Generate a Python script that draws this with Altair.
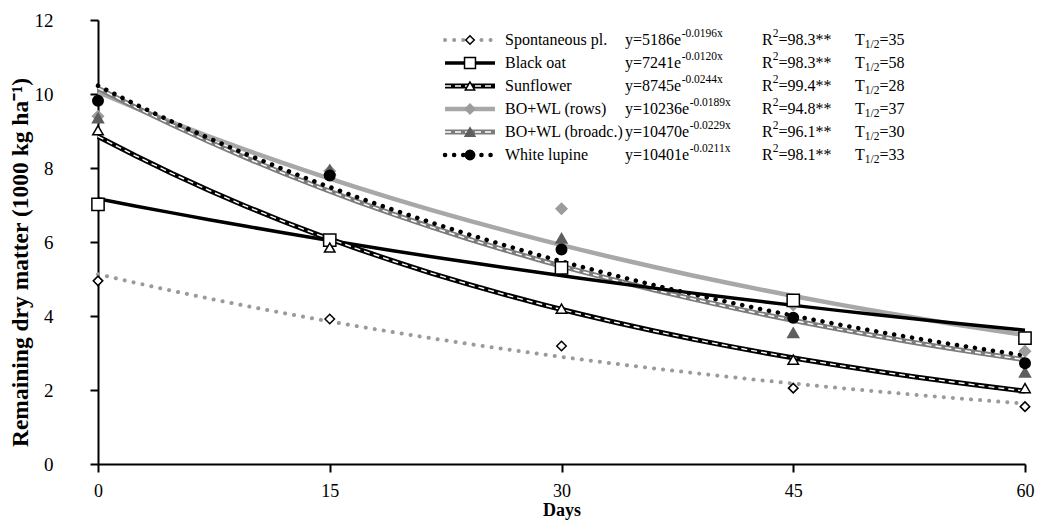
import altair as alt
import pandas as pd

# ---------------- data ----------------
days = [0, 15, 30, 45, 60]
series_names = ["Spontaneous pl.", "Black oat", "Sunflower",
                "BO+WL (rows)", "BO+WL (broadc.)", "White lupine"]
spontaneous = [4.95, 3.92, 3.19, 2.05, 1.55]
black_oat = [7.02, 6.05, 5.30, 4.42, 3.40]
sunflower = [9.02, 5.85, 4.20, 2.82, 2.05]
bowl_rows = [9.40, 7.92, 6.90, 4.30, 3.05]
bowl_broadc = [9.35, 7.95, 6.10, 3.55, 2.48]
white_lupine = [9.82, 7.80, 5.80, 3.95, 2.72]

eq_coef = ["5186", "7241", "8745", "10236", "10470", "10401"]
eq_exp = ["-0.0196x", "-0.0120x", "-0.0244x", "-0.0189x", "-0.0229x", "-0.0211x"]
r2_text = ["=98.3**", "=98.3**", "=99.4**", "=94.8**", "=96.1**", "=98.1**"]
half_life = ["=35", "=58", "=28", "=37", "=30", "=33"]
x_ticks = [0, 15, 30, 45, 60]
y_ticks = [0, 2, 4, 6, 8, 10, 12]

all_values = [spontaneous, black_oat, sunflower, bowl_rows, bowl_broadc, white_lupine]
rows = []
for name, vals in zip(series_names, all_values):
    for d, v in zip(days, vals):
        rows.append({"series": name, "day": d, "val": v})
df = pd.DataFrame(rows)

# ---------------- styles ----------------
W, H = 927, 444
FONT = "'Liberation Serif', 'Times New Roman', serif"
styles = {
    "Spontaneous pl.": dict(color="#9a9a9a", width=4, dash=[0.1, 9], cap="round", overlay=False,
                            shape="diamond", filled=False, fill="white", stroke="black", size=90),
    "Black oat": dict(color="black", width=3.5, dash=None, cap="butt", overlay=False,
                      shape="square", filled=False, fill="white", stroke="black", size=150),
    "Sunflower": dict(color="black", width=5, dash=None, cap="butt", overlay=True,
                      shape="triangle-up", filled=False, fill="white", stroke="black", size=110),
    "BO+WL (rows)": dict(color="#a8a8a8", width=4.5, dash=None, cap="butt", overlay=False,
                         shape="diamond", filled=True, fill="#9c9c9c", stroke="#9c9c9c", size=120),
    "BO+WL (broadc.)": dict(color="#7c7c7c", width=5, dash=None, cap="butt", overlay=True,
                            shape="triangle-up", filled=True, fill="#5e5e5e", stroke="#5e5e5e", size=120),
    "White lupine": dict(color="black", width=4.5, dash=[0.1, 9], cap="round", overlay=False,
                         shape="circle", filled=True, fill="black", stroke="black", size=110),
}
draw_order = ["BO+WL (rows)", "BO+WL (broadc.)", "Black oat", "Sunflower", "Spontaneous pl.", "White lupine"]

X = alt.X("day:Q", scale=alt.Scale(domain=[0, 60], nice=False),
          axis=alt.Axis(values=x_ticks, title="Days", format="d", tickSize=8,
                        labelPadding=10, labelFontSize=18, titleY=51, titleBaseline="alphabetic",
                        titleFontSize=18, labelFlush=False))
Y = alt.Y("val:Q", scale=alt.Scale(domain=[0, 12], nice=False),
          axis=alt.Axis(values=y_ticks, title="Remaining dry matter (1000 kg ha\u207b\u00b9)",
                        tickSize=8, labelPadding=37, titleX=-78, titleY=H / 2 + 20,
                        titleAlign="center", titleBaseline="middle", titleFontSize=23.5))

base = alt.Chart(df)
line_layers, point_layers = [], []
for s in draw_order:
    st = styles[s]
    reg = base.transform_filter(alt.datum.series == s).transform_regression(
        "day", "val", method="exp", extent=[0, 60])
    kw = dict(color=st["color"], strokeWidth=st["width"], strokeCap=st["cap"])
    if st["dash"]:
        kw["strokeDash"] = st["dash"]
    line_layers.append(reg.mark_line(**kw).encode(x=X, y=Y))
    if st["overlay"]:
        line_layers.append(reg.mark_line(color="white", strokeWidth=1.4, strokeDash=[6, 4])
                           .encode(x=X, y=Y))
for s in draw_order:
    st = styles[s]
    point_layers.append(
        base.transform_filter(alt.datum.series == s).mark_point(
            shape=st["shape"], filled=st["filled"], fill=st["fill"], stroke=st["stroke"],
            strokeWidth=1.5, size=st["size"], opacity=1
        ).encode(x=X, y=Y))

main = alt.layer(*line_layers, *point_layers)

# ---------------- legend (text table built from the lists) ----------------
row_y = [20 + 23 * i for i in range(len(series_names))]
sym_x0, sym_x1, sym_c = 347, 397, 372
name_x, eq_x, r2_x, t_x = 407, 527, 664, 757
FS, FSS = 16, 11.5
cw = {"0": .5, "1": .5, "2": .5, "3": .5, "4": .5, "5": .5, "6": .5, "7": .5, "8": .5, "9": .5,
      "y": .5, "=": .564, "e": .444, "R": .667, "T": .611, ".": .25, "*": .5, "/": .278, "-": .333, "x": .5}


def tw(t, fs):
    return sum(cw.get(c, .5) for c in t) * fs


leg_lines, leg_pts, leg_txt = [], [], []
for i, s in enumerate(series_names):
    yy = row_y[i]
    leg_lines += [{"series": s, "lx": sym_x0, "ly": yy}, {"series": s, "lx": sym_x1, "ly": yy}]
    leg_pts.append({"series": s, "lx": sym_c, "ly": yy})
    eq_main = "y=" + eq_coef[i] + "e"
    leg_txt += [
        {"kind": "n", "lx": name_x, "ly": yy, "t": s},
        {"kind": "n", "lx": eq_x, "ly": yy, "t": eq_main},
        {"kind": "sup", "lx": eq_x + tw(eq_main, FS) + 0.5, "ly": yy, "t": eq_exp[i]},
        {"kind": "n", "lx": r2_x, "ly": yy, "t": "R"},
        {"kind": "sup", "lx": r2_x + tw("R", FS), "ly": yy, "t": "2"},
        {"kind": "n", "lx": r2_x + tw("R", FS) + tw("2", FSS), "ly": yy, "t": r2_text[i]},
        {"kind": "n", "lx": t_x, "ly": yy, "t": "T"},
        {"kind": "sub", "lx": t_x + tw("T", FS), "ly": yy, "t": "1/2"},
        {"kind": "n", "lx": t_x + tw("T", FS) + tw("1/2", FSS), "ly": yy, "t": half_life[i]},
    ]
leg_lines = pd.DataFrame(leg_lines)
leg_pts = pd.DataFrame(leg_pts)
leg_txt = pd.DataFrame(leg_txt)

LX = alt.X("lx:Q", scale=alt.Scale(domain=[0, W], range=[0, W]), axis=None)
LY = alt.Y("ly:Q", scale=alt.Scale(domain=[0, H], range=[0, H]), axis=None)

legend_layers = []
for s in series_names:
    st = styles[s]
    kw = dict(color=st["color"], strokeWidth=st["width"], strokeCap=st["cap"])
    if st["dash"]:
        kw["strokeDash"] = st["dash"]
    lb = alt.Chart(leg_lines).transform_filter(alt.datum.series == s)
    legend_layers.append(lb.mark_line(**kw).encode(x=LX, y=LY))
    if st["overlay"]:
        legend_layers.append(lb.mark_line(color="white", strokeWidth=1.4, strokeDash=[6, 4])
                             .encode(x=LX, y=LY))
    legend_layers.append(
        alt.Chart(leg_pts).transform_filter(alt.datum.series == s).mark_point(
            shape=st["shape"], filled=st["filled"], fill=st["fill"], stroke=st["stroke"],
            strokeWidth=1.5, size=st["size"] * 0.8, opacity=1).encode(x=LX, y=LY))

tb = alt.Chart(leg_txt)
legend_layers.append(tb.transform_filter(alt.datum.kind == "n").mark_text(
    font=FONT, fontSize=FS, align="left", baseline="middle", color="black").encode(x=LX, y=LY, text="t:N"))
legend_layers.append(tb.transform_filter(alt.datum.kind == "sup").mark_text(
    font=FONT, fontSize=FSS, align="left", baseline="middle", dy=-6, color="black").encode(x=LX, y=LY, text="t:N"))
legend_layers.append(tb.transform_filter(alt.datum.kind == "sub").mark_text(
    font=FONT, fontSize=FSS, align="left", baseline="middle", dy=5, color="black").encode(x=LX, y=LY, text="t:N"))

legend = alt.layer(*legend_layers)

chart = alt.layer(main, legend).resolve_scale(x="independent", y="independent").properties(
    width=W, height=H,
    autosize=alt.AutoSizeParams(type="none"),
    padding={"left": 90, "top": 12, "right": 10, "bottom": 56},
).configure_view(stroke=None).configure_axis(
    grid=False, domainColor="black", domainWidth=2, tickColor="black", tickWidth=2,
    labelFont=FONT, labelFontSize=19, labelColor="black",
    titleFont=FONT, titleFontWeight="bold", titleColor="black",
)

chart.save("out.html", embed_options={"renderer": "svg", "actions": False})
